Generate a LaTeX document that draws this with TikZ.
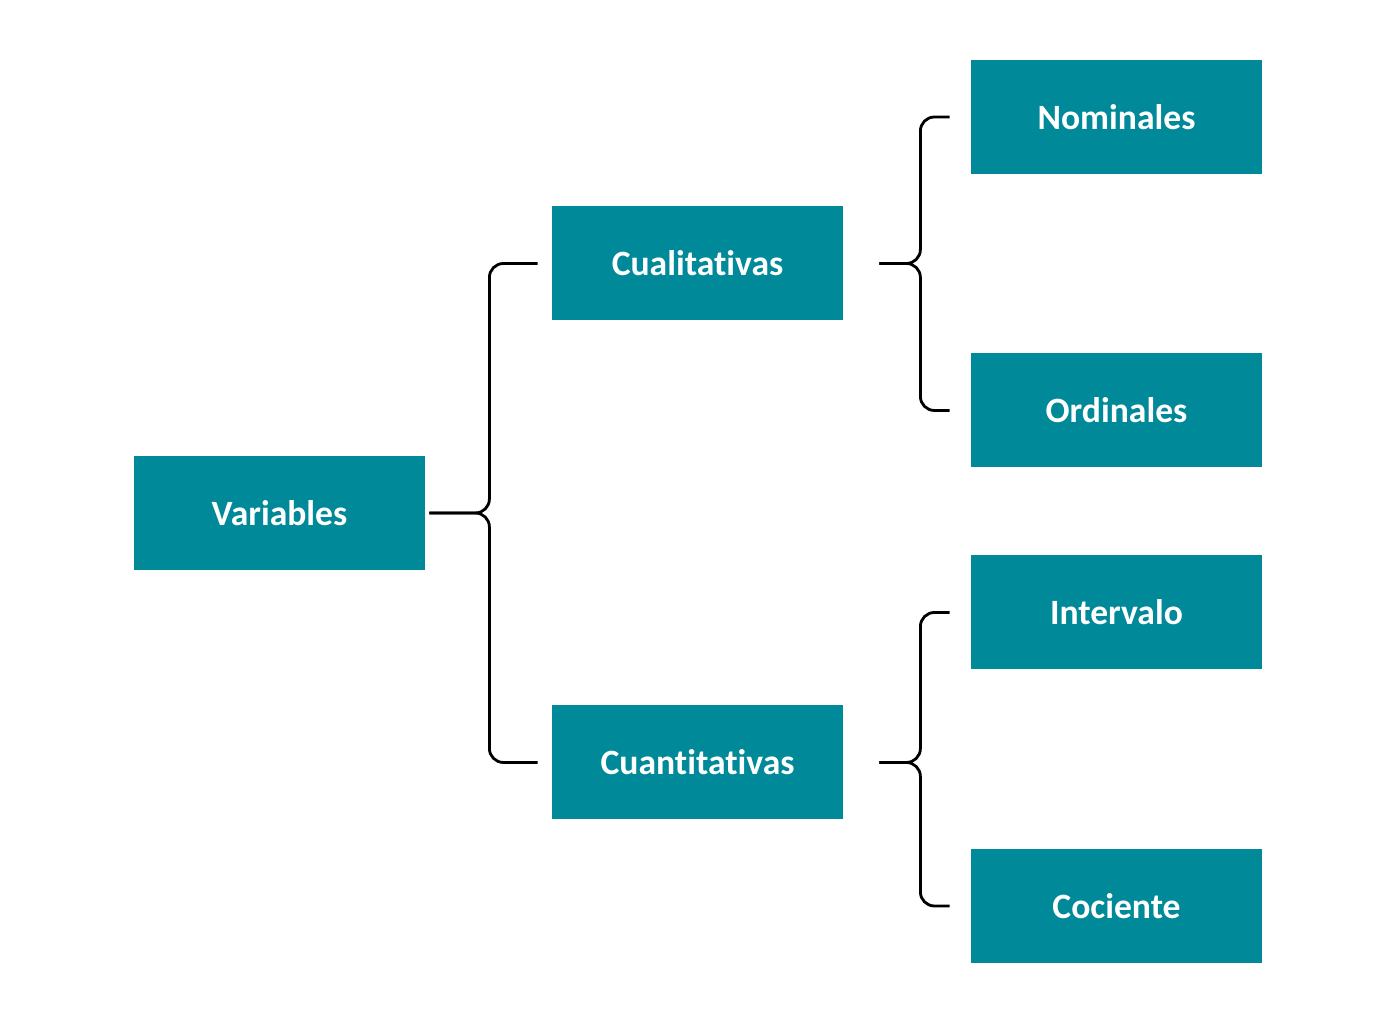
\documentclass[tikz,border=0pt]{standalone}
\usepackage{fontspec}
\setmainfont{Carlito}[Ligatures=NoCommon]
\definecolor{teal1}{RGB}{0, 137, 153}
\usetikzlibrary{positioning, calc}

\begin{document}
\begin{tikzpicture}[x=0.5pt, y=0.5pt,
    caja/.style={fill=teal1, text=white, minimum width=145.5pt, minimum height=57pt, inner sep=0pt, font=\fontsize{17.8}{20}\selectfont\bfseries},
    llave/.style={line width=1.4pt, rounded corners=7pt}]
  \useasboundingbox (0,0) rectangle (1378,1032);

  % cajas
  \node[caja] (var) at (279.5,519) {Variables};
  \node[caja] (cual) at (697.5,768.5) {Cualitativas};
  \node[caja] (cuan) at (697.5,269.5) {Cuantitativas};
  \node[caja] (nom) at (1116.5,915) {Nominales};
  \node[caja] (ord) at (1116.5,621.5) {Ordinales};
  \node[caja] (int) at (1116.5,419.5) {Intervalo};
  \node[caja] (coc) at (1116.5,126) {Cociente};

  % puntas de las llaves
  \coordinate (pvar) at ([xshift=2pt]var.east);
  \coordinate (pcual) at ([xshift=18pt]cual.east);
  \coordinate (pcuan) at ([xshift=18pt]cuan.east);

  % llaves
  \draw[llave] ([xshift=-7pt]cual.west) -| ([xshift=30pt]pvar) -- (pvar);
  \draw[llave] ([xshift=-7pt]cuan.west) -| ([xshift=30pt]pvar) -- (pvar);
  \draw[llave] ([xshift=-10.5pt]nom.west) -| ([xshift=20.5pt]pcual) -- (pcual);
  \draw[llave] ([xshift=-10.5pt]ord.west) -| ([xshift=20.5pt]pcual) -- (pcual);
  \draw[llave] ([xshift=-10.5pt]int.west) -| ([xshift=20.5pt]pcuan) -- (pcuan);
  \draw[llave] ([xshift=-10.5pt]coc.west) -| ([xshift=20.5pt]pcuan) -- (pcuan);
\end{tikzpicture}
\end{document}
